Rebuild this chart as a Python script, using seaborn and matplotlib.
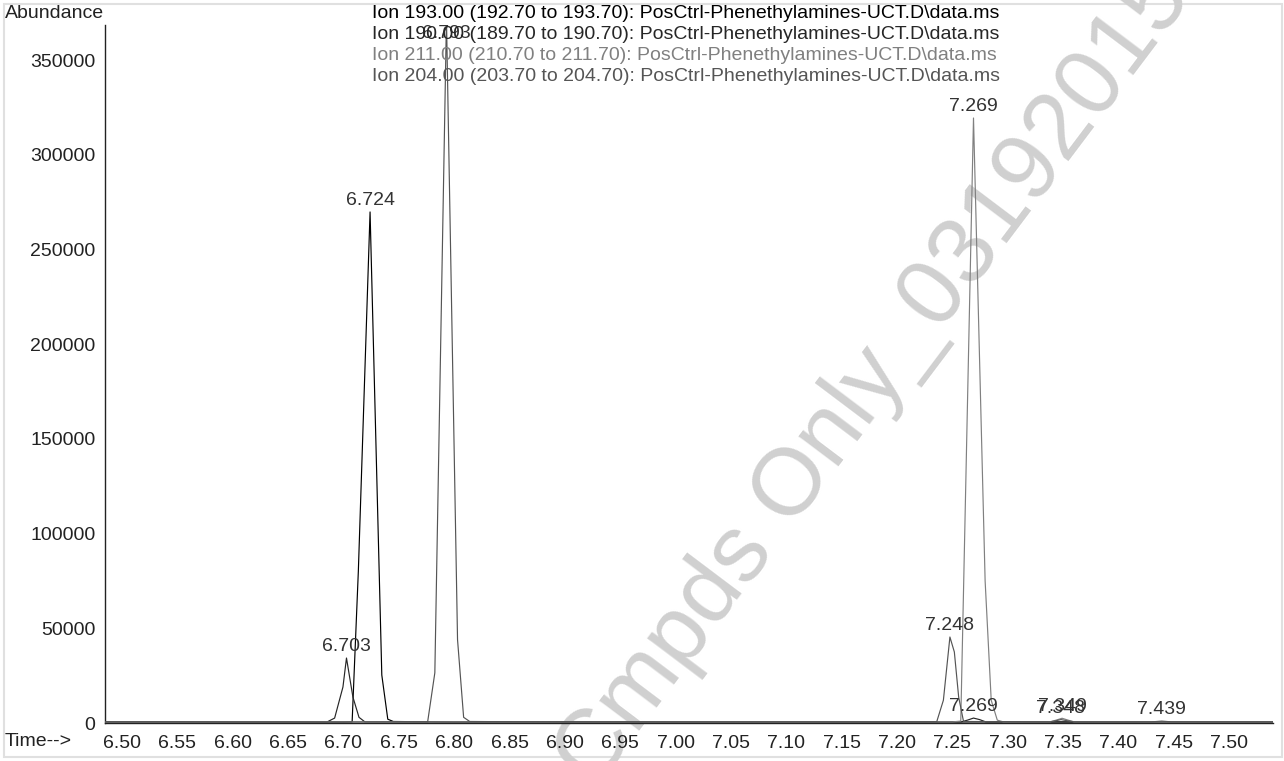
import numpy as np
import pandas as pd
import matplotlib
matplotlib.use("Agg")
import matplotlib.pyplot as plt
import matplotlib.ticker as mticker
from matplotlib.patches import Rectangle
import seaborn as sns

# ---------------- data ----------------
ion_names = [
    r"Ion 193.00 (192.70 to 193.70): PosCtrl-Phenethylamines-UCT.D\data.ms",
    r"Ion 190.00 (189.70 to 190.70): PosCtrl-Phenethylamines-UCT.D\data.ms",
    r"Ion 211.00 (210.70 to 211.70): PosCtrl-Phenethylamines-UCT.D\data.ms",
    r"Ion 204.00 (203.70 to 204.70): PosCtrl-Phenethylamines-UCT.D\data.ms",
]
ion_colors = ["#000000", "#262626", "#808080", "#555555"]

t193 = [6.485, 6.55, 6.60, 6.65, 6.700, 6.7078, 6.7134, 6.724, 6.7346, 6.740, 6.745,
        6.80, 6.90, 7.00, 7.10, 7.20, 7.30, 7.40, 7.54]
v193 = [500, 600, 500, 600, 500, 600, 80000, 269800, 25300, 2000, 800,
        500, 600, 500, 600, 500, 600, 500, 500]

t190 = [6.485, 6.60, 6.685, 6.692, 6.6995, 6.7027, 6.7085, 6.714, 6.7193, 6.80, 7.00,
        7.20, 7.258, 7.2635, 7.269, 7.2745, 7.28, 7.40, 7.54]
v190 = [600, 500, 500, 2600, 19000, 34300, 13700, 3000, 600, 500, 600,
        500, 600, 1500, 2600, 1800, 600, 500, 600]

t211 = [6.485, 6.70, 6.90, 7.10, 7.25, 7.2575, 7.269, 7.2795, 7.285, 7.2905, 7.296,
        7.338, 7.3435, 7.349, 7.3545, 7.36, 7.45, 7.54]
v211 = [500, 600, 500, 600, 600, 1000, 319400, 75000, 12000, 1500, 600,
        600, 1500, 2500, 1500, 600, 500, 500]

t204 = [6.485, 6.70, 6.776, 6.7825, 6.793, 6.803, 6.8085, 6.814, 6.90, 7.10, 7.2358,
        7.2418, 7.2477, 7.2517, 7.2556, 7.2600, 7.338, 7.3435, 7.348, 7.3535, 7.36,
        7.43, 7.439, 7.448, 7.54]
v204 = [600, 500, 600, 26500, 372000, 44000, 3000, 800, 500, 600, 700,
        12000, 45400, 37500, 13700, 800, 600, 1200, 1800, 1200, 600,
        600, 1000, 600, 500]

# peak labels: (series index, retention time, label)
label_series = [1, 0, 3, 3, 2, 1, 2, 3, 3]
label_times = [6.7027, 6.724, 6.793, 7.2477, 7.269, 7.269, 7.349, 7.348, 7.439]
label_texts = ["6.703", "6.724", "6.793", "7.248", "7.269", "7.269", "7.349", "7.348", "7.439"]

x_ticks = [6.50, 6.55, 6.60, 6.65, 6.70, 6.75, 6.80, 6.85, 6.90, 6.95, 7.00,
           7.05, 7.10, 7.15, 7.20, 7.25, 7.30, 7.35, 7.40, 7.45, 7.50]
y_ticks = [0, 50000, 100000, 150000, 200000, 250000, 300000, 350000]

watermark = "Cmpds Only_03192015"

# ---------------- build frame ----------------
times = [t193, t190, t211, t204]
vals = [v193, v190, v211, v204]
frames = []
for name, t, v in zip(ion_names, times, vals):
    frames.append(pd.DataFrame({"time": t, "abundance": v, "ion": name}))
df = pd.concat(frames, ignore_index=True)

# ---------------- figure ----------------
sns.set_style("white")
plt.rcParams["font.family"] = ["Liberation Sans", "DejaVu Sans"]
FS = 14

W, H = 1284, 761
fig = plt.figure(figsize=(W / 100, H / 100), dpi=100)
fig.patch.set_facecolor("white")

# light frame around figure
fig.patches.append(Rectangle((4 / W, 4 / H), (1282 - 4) / W, (757 - 4) / H,
                             transform=fig.transFigure, fill=False,
                             edgecolor="#e0e0e0", linewidth=1.5, zorder=0))

# watermark (behind everything)
fig.text(595 / W, 1 - 790 / H, watermark, rotation=53, rotation_mode="anchor",
         ha="left", va="baseline", fontsize=68, color="#d0d0d0", zorder=0.5)

ax_l, ax_r, ax_t, ax_b = 105, 1273, 25, 723
ax = fig.add_axes([ax_l / W, (H - ax_b) / H, (ax_r - ax_l) / W, (ax_b - ax_t) / H])
ax.set_facecolor("none")
ax.set_zorder(2)

sns.lineplot(data=df, x="time", y="abundance", hue="ion", hue_order=ion_names,
             palette=dict(zip(ion_names, ion_colors)), estimator=None, sort=False,
             linewidth=0.85, legend=False, ax=ax, zorder=3)

xmin, xmax = 6.4846, 7.5395
ymax = 368500
ax.set_xlim(xmin, xmax)
ax.set_ylim(0, ymax)

for s in ["top", "right"]:
    ax.spines[s].set_visible(False)
for s in ["left", "bottom"]:
    ax.spines[s].set_color("#222222")
    ax.spines[s].set_linewidth(1.0)

ax.set_xticks(x_ticks)
ax.xaxis.set_major_formatter(mticker.FormatStrFormatter("%.2f"))
ax.xaxis.set_minor_locator(mticker.MultipleLocator(0.01))
ax.set_yticks(y_ticks)
ax.yaxis.set_major_formatter(mticker.FuncFormatter(lambda v, p: f"{int(v)}"))
ax.yaxis.set_minor_locator(mticker.MultipleLocator(10000))
ax.tick_params(axis="both", which="major", direction="out", length=6, width=1,
               colors="#222222", labelsize=FS, labelcolor="#222222")
ax.tick_params(axis="both", which="minor", direction="out", length=3.5, width=1,
               colors="#222222")
ax.tick_params(axis="x", pad=3)
ax.tick_params(axis="y", pad=1)
ax.set_xlabel("")
ax.set_ylabel("")

# axis captions
fig.text(5 / W, 1 - 14 / H, "Abundance", ha="left", va="center", fontsize=FS,
         color="#222222", zorder=3)
fig.text(5 / W, 1 - 742 / H, "Time-->", ha="left", va="center", fontsize=FS,
         color="#222222", zorder=3)

# legend lines (ion descriptions)
for i, (name, c) in enumerate(zip(ion_names, ion_colors)):
    fig.text(372 / W, 1 - (14 + 20.7 * i) / H, name, ha="left", va="center",
             fontsize=FS, color=c, zorder=3)

# peak labels
for si, tt, txt in zip(label_series, label_times, label_texts):
    t = np.array(times[si]); v = np.array(vals[si])
    idx = int(np.argmin(np.abs(t - tt)))
    yv = min(v[idx], ymax * 0.972)
    ax.annotate(txt, xy=(tt, yv), xytext=(0, 2), textcoords="offset points",
                ha="center", va="bottom", fontsize=FS, color="#333333",
                annotation_clip=False, zorder=4)

fig.savefig("out.png", dpi=100)
